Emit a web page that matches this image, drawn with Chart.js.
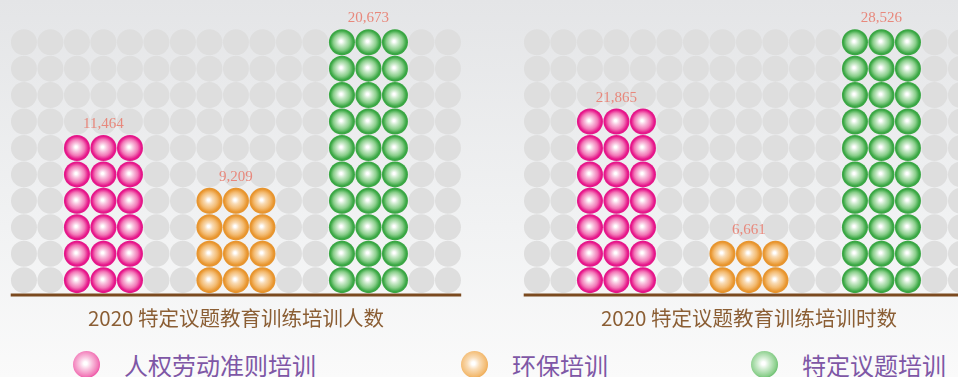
<!DOCTYPE html>
<html>
<head>
<meta charset="utf-8">
<script src="https://cdn.jsdelivr.net/npm/chart.js@4"></script>
<style>
  html, body {
    margin: 0;
    padding: 0;
    width: 958px;
    height: 377px;
    overflow: hidden;
    background: linear-gradient(180deg, #e4e5e7 0%, #f1f2f3 60%, #fafafa 100%);
    font-family: "Noto Sans CJK SC", "Noto Sans", sans-serif;
  }
  .panel {
    position: absolute;
    top: 0;
    width: 472px;
    height: 340px;
  }
  .legend-item {
    position: absolute;
    top: 350px;
    height: 28px;
    display: flex;
    align-items: center;
    color: #7e57a6;
    font-size: 24px;
    white-space: nowrap;
  }
  .legend-dot {
    width: 27px;
    height: 27px;
    border-radius: 50%;
    margin-right: 24px;
  }
</style>
</head>
<body>
<div class="panel" style="left:0"><canvas id="peopleChart"></canvas></div>
<div class="panel" style="left:513px"><canvas id="hoursChart"></canvas></div>
<div id="legend"></div>

<script>
// Categories and values
const categories = ['人权劳动准则培训', '环保培训', '特定议题培训'];
const peopleValues = [11464, 9209, 20673];
const hoursValues = [21865, 6661, 28526];
// Number of dot rows per stack, as drawn
const peopleRows = [6, 4, 10];
const hoursRows = [7, 2, 10];
const panelTitles = ['2020 特定议题教育训练培训人数', '2020 特定议题教育训练培训时数'];

// Styling
const ballColors = [
    { light: '#f9c6e0', mid: '#f27ab8', edge: '#e6168a' },  // pink
    { light: '#f9dcb6', mid: '#f3bb72', edge: '#e8952e' },  // orange
    { light: '#cdebcd', mid: '#8bcf8c', edge: '#3aa744' }   // green
];
const GRID_COLS = 17;
const GRID_ROWS = 10;
const DOT = 26;

// column where each category stack is centred
const stackCenter = i => 3 + 5 * i;

function gridPoints() {
    const pts = [];
    for (let c = 0; c < GRID_COLS; c++) {
        for (let r = 0; r < GRID_ROWS; r++) pts.push({ x: c, y: r });
    }
    return pts;
}

function stackPoints(i, rows) {
    const pts = [];
    for (let c = stackCenter(i) - 1; c <= stackCenter(i) + 1; c++) {
        for (let r = 0; r < rows; r++) pts.push({ x: c, y: r });
    }
    return pts;
}

// shaded ball fill, built at each point's pixel position
function ballFill(color) {
    return (ctx) => {
        if (ctx.type !== 'data' || !ctx.parsed) return color.edge;
        const chart = ctx.chart;
        const px = chart.scales.x.getPixelForValue(ctx.parsed.x);
        const py = chart.scales.y.getPixelForValue(ctx.parsed.y);
        if (!isFinite(px) || !isFinite(py)) return color.edge;
        const r = DOT / 2;
        const g = chart.ctx.createRadialGradient(px - 1, py - 1, 0, px, py, r);
        g.addColorStop(0, '#ffffff');
        g.addColorStop(0.08, '#ffffff');
        g.addColorStop(0.3, color.light);
        g.addColorStop(0.62, color.mid);
        g.addColorStop(0.88, color.edge);
        g.addColorStop(1, color.edge);
        return g;
    };
}

// baseline + value labels
const decorPlugin = {
    id: 'decor',
    afterDatasetsDraw(chart, args, opts) {
        const { ctx, chartArea, scales } = chart;
        ctx.save();
        ctx.strokeStyle = '#7b4a1f';
        ctx.lineWidth = 3;
        ctx.beginPath();
        ctx.moveTo(chartArea.left, chartArea.bottom + 1.5);
        ctx.lineTo(chartArea.right, chartArea.bottom + 1.5);
        ctx.stroke();

        ctx.fillStyle = '#e8887c';
        ctx.font = '15px "Liberation Serif", serif';
        ctx.textAlign = 'center';
        ctx.textBaseline = 'alphabetic';
        opts.values.forEach((v, i) => {
            const x = scales.x.getPixelForValue(stackCenter(i));
            const y = scales.y.getPixelForValue(opts.rows[i] - 1) - DOT / 2 - 7;
            ctx.fillText(v.toLocaleString('en-US'), x, y);
        });
        ctx.restore();
    }
};

function buildChart(id, values, rows, title) {
    const datasets = categories.map((name, i) => ({
        label: name,
        data: stackPoints(i, rows[i]),
        order: 0,
        pointStyle: 'circle',
        pointRadius: DOT / 2,
        pointBorderWidth: 0,
        borderWidth: 0,
        pointBackgroundColor: ballFill(ballColors[i])
    }));
    // grey background grid, drawn underneath
    datasets.push({
        data: gridPoints(),
        order: 1,
        pointStyle: 'circle',
        pointRadius: DOT / 2,
        backgroundColor: '#dedede',
        borderWidth: 0
    });

    new Chart(document.getElementById(id), {
        type: 'scatter',
        data: { datasets },
        options: {
            responsive: true,
            maintainAspectRatio: false,
            animation: false,
            events: [],
            layout: { autoPadding: false, padding: { top: 29, left: 10.7, right: 10.8, bottom: 0 } },
            scales: {
                x: { display: false, min: -0.5, max: GRID_COLS - 0.5 },
                y: { display: false, min: -0.5, max: GRID_ROWS - 0.5 }
            },
            plugins: {
                legend: { display: false },
                tooltip: { enabled: false },
                title: {
                    display: true,
                    position: 'bottom',
                    text: title,
                    color: '#8b5e34',
                    font: { family: '"Noto Sans CJK SC", sans-serif', size: 20.5, weight: 'normal', lineHeight: 1.2 },
                    padding: { top: 13, bottom: 9 }
                },
                decor: { values, rows }
            }
        },
        plugins: [decorPlugin]
    });
}

buildChart('peopleChart', peopleValues, peopleRows, panelTitles[0]);
buildChart('hoursChart', hoursValues, hoursRows, panelTitles[1]);

// HTML legend
const legendLeft = [73, 461, 751];
const legend = document.getElementById('legend');
categories.forEach((name, i) => {
    const item = document.createElement('div');
    item.className = 'legend-item';
    item.style.left = legendLeft[i] + 'px';
    const dot = document.createElement('span');
    dot.className = 'legend-dot';
    const c = ballColors[i];
    dot.style.background = `radial-gradient(circle at 46% 46%, #ffffff 0%, #ffffff 8%, ${c.light} 30%, ${c.mid} 62%, ${c.edge} 88%)`;
    const label = document.createElement('span');
    label.textContent = name;
    item.appendChild(dot);
    item.appendChild(label);
    legend.appendChild(item);
});
</script>
</body>
</html>
